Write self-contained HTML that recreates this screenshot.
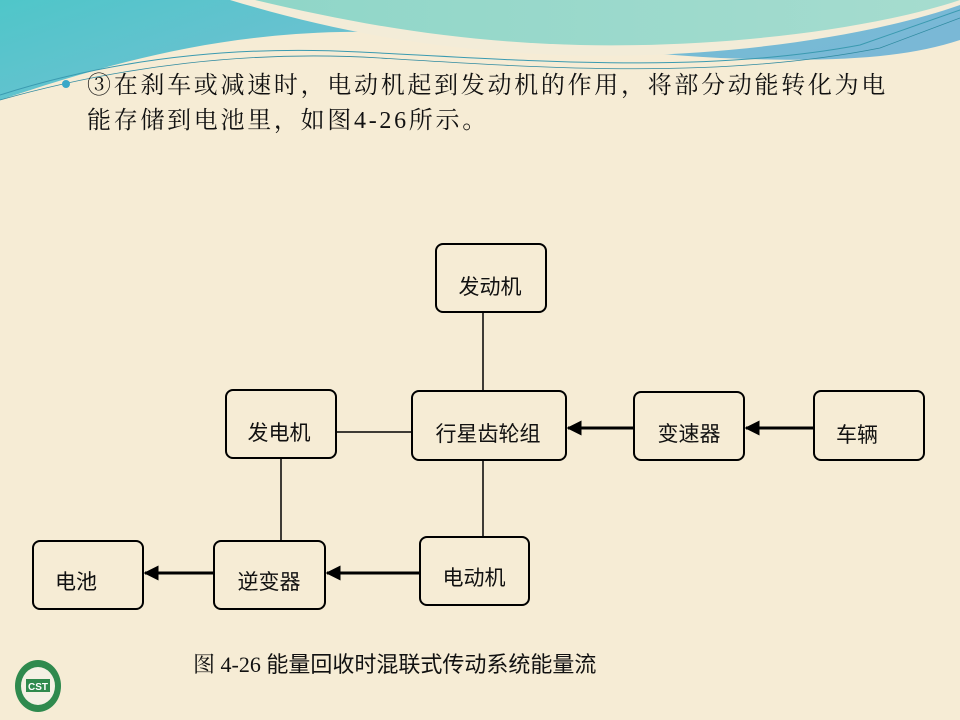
<!DOCTYPE html>
<html><head><meta charset="utf-8"><style>
body{margin:0;width:960px;height:720px;overflow:hidden;background:#f6ecd5;}
svg{display:block}
</style></head><body>
<svg width="960" height="720" viewBox="0 0 960 720" xmlns="http://www.w3.org/2000/svg" font-family="Liberation Serif, Noto Serif CJK SC, serif">
<defs>
<linearGradient id="g1" x1="0" y1="0" x2="1" y2="0.3">
<stop offset="0" stop-color="#4fc6c9"/><stop offset="0.5" stop-color="#6fc0d2"/><stop offset="1" stop-color="#7ab8d6"/>
</linearGradient>
<linearGradient id="g2" x1="0" y1="0" x2="1" y2="0">
<stop offset="0" stop-color="#8fd6c8"/><stop offset="1" stop-color="#a6dccf"/>
</linearGradient>
<marker id="ar" viewBox="0 0 10 10" refX="9" refY="5" markerWidth="5" markerHeight="5" orient="auto"><path d="M0,0 L10,5 L0,10 z" fill="#000"/></marker>
</defs>
<rect width="960" height="720" fill="#f6ecd5"/>
<path d="M0,0 H960 V40 C900,60 820,62 720,58 C600,52 480,30 340,32 C200,35 90,70 0,100 Z" fill="url(#g1)"/>
<path d="M230,0 C330,30 430,50 560,55 C700,60 860,40 960,5 V0 Z" fill="#f3ecd8"/>
<path d="M255,0 C360,25 460,42 580,45 C720,48 870,30 960,0 Z" fill="url(#g2)"/>
<path d="M0,95 C110,60 230,45 360,52 C520,60 700,75 860,45 L960,10" fill="none" stroke="#3a9ab0" stroke-width="1"/>
<path d="M0,100 C120,66 250,50 380,58 C540,68 720,80 880,48 L960,18" fill="none" stroke="#2f8aa0" stroke-width="0.8"/>
<circle cx="66" cy="84" r="4" fill="#3aa8c8"/>
<text x="87" y="93" font-size="24" letter-spacing="2.7" fill="#111">③在刹车或减速时，电动机起到发动机的作用，将部分动能转化为电</text>
<text x="87" y="128" font-size="24" letter-spacing="2.7" fill="#111">能存储到电池里，如图4-26所示。</text>

<g fill="none" stroke="#000" stroke-width="2">
<rect x="436" y="244" width="110" height="68" rx="7"/>
<rect x="226" y="390" width="110" height="68" rx="7"/>
<rect x="412" y="391" width="154" height="69" rx="7"/>
<rect x="634" y="392" width="110" height="68" rx="7"/>
<rect x="814" y="391" width="110" height="69" rx="7"/>
<rect x="33" y="541" width="110" height="68" rx="7"/>
<rect x="214" y="541" width="111" height="68" rx="7"/>
<rect x="420" y="537" width="109" height="68" rx="7"/>
<line x1="483" y1="312" x2="483" y2="391" stroke-width="1.5"/>
<line x1="336" y1="432" x2="412" y2="432" stroke-width="1.5"/>
<line x1="281" y1="458" x2="281" y2="541" stroke-width="1.5"/>
<line x1="483" y1="460" x2="483" y2="537" stroke-width="1.5"/>
<line x1="634" y1="428" x2="568" y2="428" stroke-width="3" marker-end="url(#ar)"/>
<line x1="814" y1="428" x2="746" y2="428" stroke-width="3" marker-end="url(#ar)"/>
<line x1="420" y1="573" x2="327" y2="573" stroke-width="3" marker-end="url(#ar)"/>
<line x1="214" y1="573" x2="145" y2="573" stroke-width="3" marker-end="url(#ar)"/>
</g>
<g font-family="Liberation Sans, Noto Sans CJK SC, sans-serif" font-size="21" fill="#111" text-anchor="middle">
<text x="490" y="294">发动机</text>
<text x="279" y="440">发电机</text>
<text x="488" y="441">行星齿轮组</text>
<text x="689" y="441">变速器</text>
<text x="857" y="442">车辆</text>
<text x="76" y="589">电池</text>
<text x="269" y="589">逆变器</text>
<text x="474" y="585">电动机</text>
</g>
<text x="193" y="672" font-size="22" fill="#111">图 4-26 <tspan font-family="Liberation Sans, Noto Sans CJK SC, sans-serif">能量回收时混联式传动系统能量流</tspan></text>
<g>
<ellipse cx="38" cy="686" rx="23" ry="26" fill="#2f8a4e"/>
<ellipse cx="38" cy="686" rx="17" ry="19" fill="#f4f1e4"/>
<rect x="26" y="679" width="24" height="13" fill="#2f8a4e"/>
<text x="38" y="690" font-size="10" fill="#fff" text-anchor="middle" font-family="Liberation Sans, sans-serif" font-weight="bold">CST</text>
</g>
</svg>
</body></html>
